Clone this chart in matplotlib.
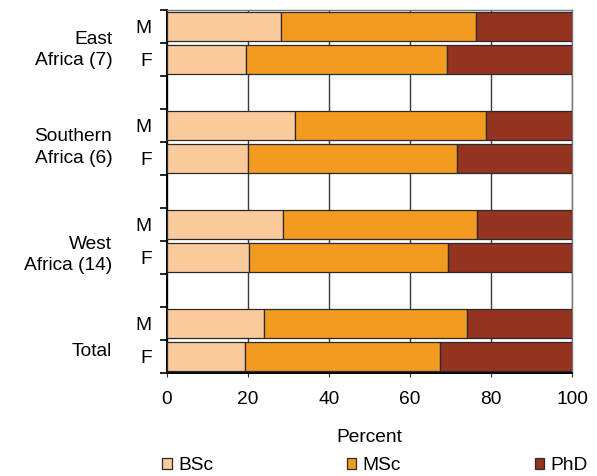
"""
Degree level of staff by region and sex, stacked to 100 percent
"""

import numpy as np
import matplotlib
matplotlib.use('Agg')
from matplotlib import pyplot as plt
from matplotlib.patches import Patch

plt.rcParams['font.family'] = ['Liberation Sans', 'DejaVu Sans']

groups = ['East\nAfrica (7)', 'Southern\nAfrica (6)', 'West\nAfrica (14)', 'Total']
levels = ['BSc', 'MSc', 'PhD']
colors = ['#F9CB9C', '#F39A20', '#943320']

# share of each degree level (percent), male and female rows per group
bsc_male = [28.1, 31.5, 28.6, 24.0]
msc_male = [48.3, 47.2, 47.9, 50.1]
phd_male = [23.6, 21.3, 23.5, 25.9]
bsc_female = [19.5, 19.9, 20.3, 19.2]
msc_female = [49.7, 51.6, 49.0, 48.2]
phd_female = [30.8, 28.5, 30.7, 32.6]

# row layout: M, F, blank for each group
rows_m = np.arange(len(groups)) * 3
rows_f = rows_m + 1
n_rows = rows_f[-1] + 1

fig = plt.figure(figsize=(5.97, 4.76), dpi=100)
ax = fig.add_axes([167/597, 1 - 373/476, 405/597, 363/476])

fs = 13.8
bar_h = 0.85
for rows, parts in [(rows_m, [bsc_male, msc_male, phd_male]),
                    (rows_f, [bsc_female, msc_female, phd_female])]:
    left = np.zeros(len(groups))
    for vals, c in zip(parts, colors):
        ax.barh(rows, vals, left=left, height=bar_h, color=c,
                edgecolor='#2a2a2a', linewidth=0.9, zorder=3)
        left += np.array(vals)

ax.set_xlim(0, 100)
ax.set_ylim(n_rows - 0.5, -0.5)
ax.set_xticks(np.arange(0, 101, 20))
ax.xaxis.grid(True, color='#3a3a3a', linewidth=1.0, zorder=0)
ax.tick_params(axis='x', labelsize=fs, length=3, pad=10, color='#333333')

# category boundaries as major ticks, M/F labels on minor ticks
ax.set_yticks(np.arange(-0.5, n_rows, 1.0))
ax.set_yticklabels([])
ax.tick_params(axis='y', which='major', length=5, width=1.2, direction='out')
row_pos = np.sort(np.concatenate([rows_m, rows_f]))
ax.set_yticks(row_pos, minor=True)
ax.set_yticklabels(['M', 'F'] * len(groups), minor=True)
ax.tick_params(axis='y', which='minor', length=0, pad=11, labelsize=fs)

for s in ['left', 'bottom']:
    ax.spines[s].set_linewidth(1.4)
    ax.spines[s].set_color('black')
for s in ['top', 'right']:
    ax.spines[s].set_color('#777777')
    ax.spines[s].set_linewidth(1.0)

# group names to the left of the M/F labels
label_off = [0.71, 0.67, 0.92, 0.86]
for g, r, off in zip(groups, rows_m, label_off):
    ax.text(-0.135, r + off, g, transform=ax.get_yaxis_transform(),
            ha='right', va='center', multialignment='right', fontsize=fs,
            linespacing=1.35)

ax.set_xlabel('Percent', fontsize=fs, labelpad=15)

handles = [Patch(facecolor=c, edgecolor='#2a2a2a', linewidth=0.9) for c in colors]
fig.legend(handles, levels, loc='lower left', ncol=3, mode='expand',
           bbox_to_anchor=(160/597, 0.0, 430/597, 0.06), frameon=False,
           fontsize=fs, handlelength=0.5, handleheight=0.5,
           handletextpad=0.35, borderaxespad=0.0, borderpad=0.1)

fig.savefig('out.png', dpi=100)
